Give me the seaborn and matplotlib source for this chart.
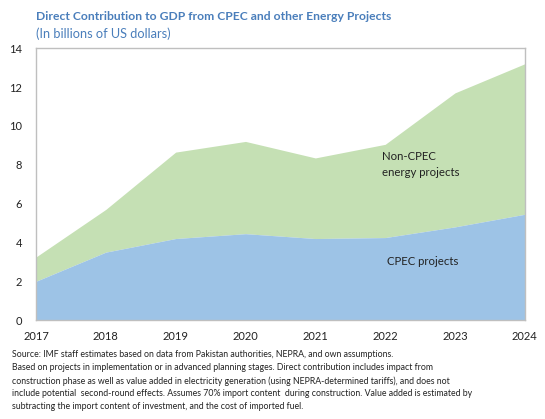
import pandas as pd
import seaborn as sns
import matplotlib.pyplot as plt

# --- Data (billions of US dollars) ---
years = [2017, 2018, 2019, 2020, 2021, 2022, 2023, 2024]
cpec = [2.0, 3.5, 4.2, 4.45, 4.2, 4.25, 4.8, 5.45]
non_cpec = [1.25, 2.2, 4.45, 4.75, 4.15, 4.8, 6.9, 7.75]

df = pd.DataFrame({'year': years, 'CPEC': cpec, 'Non-CPEC': non_cpec})
df['total'] = df['CPEC'] + df['Non-CPEC']

sns.set_style('white')
plt.rcParams['font.family'] = ['Lato', 'DejaVu Sans']

fig = plt.figure(figsize=(5.45, 4.19), dpi=100)
ax = fig.add_axes([0.066, 0.236, 0.897, 0.649])

blue = '#9DC3E6'
green = '#C5E0B4'
grey_line = '#BFBFBF'

# invisible line layers via seaborn, areas filled on top
sns.lineplot(data=df, x='year', y='total', ax=ax, color=green, linewidth=0)
sns.lineplot(data=df, x='year', y='CPEC', ax=ax, color=blue, linewidth=0)
ax.fill_between(df['year'], df['CPEC'], df['total'], color=green, linewidth=0)
ax.fill_between(df['year'], 0, df['CPEC'], color=blue, linewidth=0)

ax.set_xlim(2017, 2024)
ax.set_ylim(0, 14)
ax.set_yticks(range(0, 15, 2))
ax.set_xticks(years)
ax.set_xlabel('')
ax.set_ylabel('')

for side in ['left', 'top', 'right', 'bottom']:
    ax.spines[side].set_color(grey_line)
    ax.spines[side].set_linewidth(1.0)

ax.tick_params(axis='y', labelsize=8, colors='#222222', length=0, pad=10)
ax.tick_params(axis='x', labelsize=8, colors='#222222', length=0, pad=8)

# area labels
ax.text(2021.95, 8.0, 'Non-CPEC\nenergy projects', fontsize=8.2, color='#222222',
        va='center', ha='left', linespacing=1.5)
ax.text(2022.02, 3.0, 'CPEC projects', fontsize=8.2, color='#222222',
        va='center', ha='left')

# title and subtitle
title_color = '#4A7EBB'
fig.text(36 / 545, 1 - 16 / 419, 'Direct Contribution to GDP from CPEC and other Energy Projects',
         fontsize=8.7, fontweight='bold', color=title_color, va='center', ha='left')
fig.text(36 / 545, 1 - 34 / 419, '(In billions of US dollars)',
         fontsize=9.2, color=title_color, va='center', ha='left')

# footnote
notes = ('Source: IMF staff estimates based on data from Pakistan authorities, NEPRA, and own assumptions.\n'
         'Based on projects in implementation or in advanced planning stages. Direct contribution includes impact from\n'
         'construction phase as well as value added in electricity generation (using NEPRA-determined tariffs), and does not\n'
         'include potential  second-round effects. Assumes 70% import content  during construction. Value added is estimated by\n'
         'subtracting the import content of investment, and the cost of imported fuel.')
fig.text(12 / 545, 1 - 350 / 419, notes, fontsize=6.35, color='#222222',
         va='top', ha='left', linespacing=1.55)

fig.savefig('out.png', dpi=100)
